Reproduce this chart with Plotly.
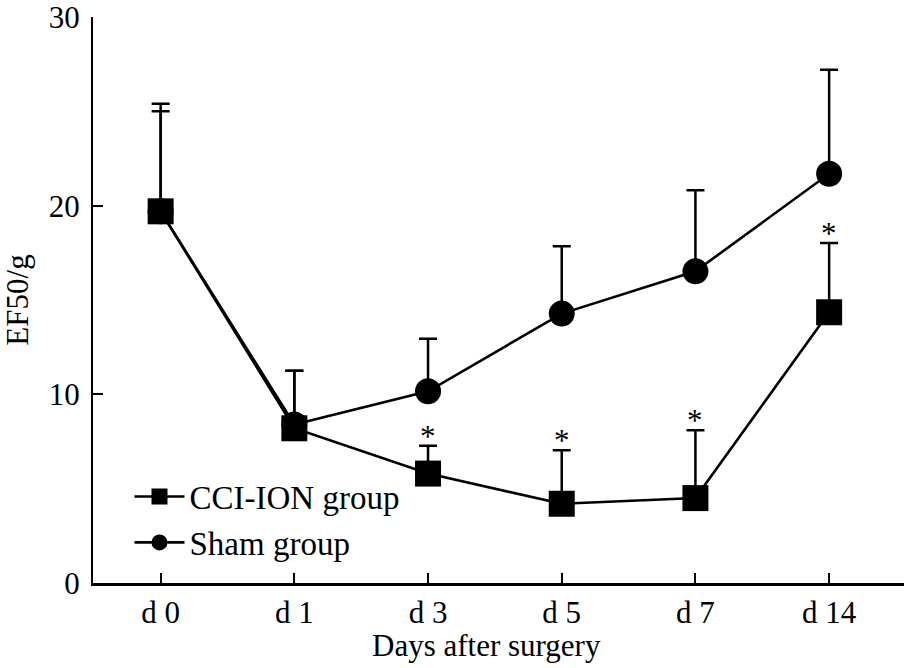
import plotly.graph_objects as go

days = ["d 0", "d 1", "d 3", "d 5", "d 7", "d 14"]
cci_mean = [19.7, 8.2, 5.8, 4.2, 4.5, 14.35]
cci_top = [25.4, 11.25, 7.27, 7.03, 8.09, 18.02]
sham_mean = [19.7, 8.4, 10.16, 14.28, 16.52, 21.69]
sham_top = [25.0, 11.25, 12.94, 17.85, 20.82, 27.2]
cci_sig = ["", "", "*", "*", "*", "*"]
y_ticks = [0, 10, 20, 30]

FONT = "Liberation Serif"
FS = 31
xpos = list(range(len(days)))

fig = go.Figure()
fig.add_trace(go.Scatter(
    x=xpos, y=sham_mean, mode="lines+markers", name="Sham group",
    line=dict(color="black", width=2.6),
    marker=dict(symbol="circle", size=26, color="black"),
    error_y=dict(type="data", symmetric=False,
                 array=[t - m for t, m in zip(sham_top, sham_mean)],
                 arrayminus=[0] * len(days), color="black", thickness=2.5, width=9),
))
fig.add_trace(go.Scatter(
    x=xpos, y=cci_mean, mode="lines+markers", name="CCI-ION group",
    line=dict(color="black", width=2.6),
    marker=dict(symbol="square", size=26, color="black"),
    error_y=dict(type="data", symmetric=False,
                 array=[t - m for t, m in zip(cci_top, cci_mean)],
                 arrayminus=[0] * len(days), color="black", thickness=2.5, width=9),
))

for xi, t, s in zip(xpos, cci_top, cci_sig):
    if s:
        fig.add_annotation(x=xi, y=t, xref="x", yref="y", text=s, showarrow=False,
                           yanchor="bottom", yshift=-10,
                           font=dict(family=FONT, size=FS, color="black"))

fig.add_annotation(x=(486.5 - 93) / 811, y=0, xref="paper", yref="paper",
                   yanchor="top", yshift=-43, showarrow=False,
                   text="Days after surgery",
                   font=dict(family=FONT, size=FS, color="black"))

fig.update_layout(
    width=904, height=668,
    margin=dict(l=93, r=0, t=12, b=85),
    paper_bgcolor="white", plot_bgcolor="white",
    font=dict(family=FONT, size=FS, color="black"),
    showlegend=True,
    legend=dict(x=0.045, y=0.022, xanchor="left", yanchor="bottom",
                traceorder="reversed", bgcolor="rgba(0,0,0,0)",
                font=dict(family=FONT, size=33, color="black"),
                itemwidth=50, tracegroupgap=0),
    xaxis=dict(range=[-0.506, 5.56], tickmode="array", tickvals=xpos, ticktext=days,
               showline=True, linecolor="black", linewidth=2.5,
               ticks="inside", ticklen=10, tickwidth=2, tickcolor="black",
               showgrid=False, zeroline=False, ticklabelstandoff=0,
               tickfont=dict(family=FONT, size=FS, color="black")),
    yaxis=dict(range=[0, 30], tickvals=y_ticks,
               showline=True, linecolor="black", linewidth=2,
               ticks="inside", ticklen=10, tickwidth=2, tickcolor="black",
               showgrid=False, zeroline=False, ticklabelstandoff=5,
               ticklabeloverflow="allow",
               tickfont=dict(family=FONT, size=FS, color="black"),
               title=dict(text="EF50/g", standoff=18,
                          font=dict(family=FONT, size=FS, color="black"))),
)

fig.write_html("out.html", config={"displayModeBar": False},
               post_script="document.body.style.margin='0px';")
